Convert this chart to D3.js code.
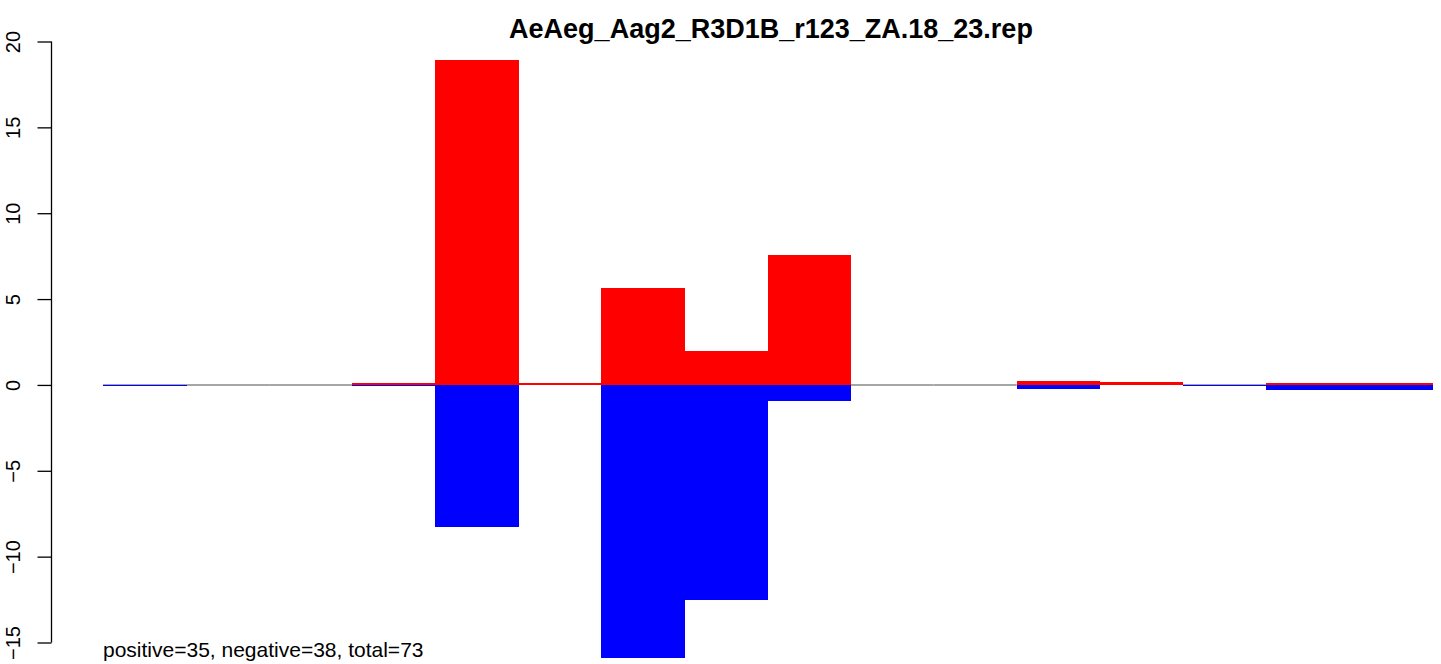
<!DOCTYPE html>
<html>
<head>
<meta charset="utf-8">
<script src="https://cdn.jsdelivr.net/npm/d3@7/dist/d3.min.js"></script>
<style>
  html, body { margin: 0; padding: 0; background: #fff; }
  svg { display: block; }
  text { font-family: "Liberation Sans", Arial, Helvetica, sans-serif; }
</style>
</head>
<body>
<svg id="chart" width="1441" height="664"></svg>
<script>
// ---- data ----
const titleText = "AeAeg_Aag2_R3D1B_r123_ZA.18_23.rep";
const noteText = "positive=35, negative=38, total=73";
const categories = ["1","2","3","4","5","6","7","8","9","10","11","12","13","14","15","16"];
const positiveValues = [0, 0, 0, 0.12, 18.93, 0.12, 5.65, 1.98, 7.57, 0, 0, 0.25, 0.17, 0, 0.12, 0.12];
const negativeValues = [-0.05, 0, 0, -0.05, -8.27, 0, -15.9, -12.55, -0.95, 0, 0, -0.21, 0, -0.04, -0.29, -0.29];
const yTicks = [-15, -10, -5, 0, 5, 10, 15, 20];
const yTickLabels = ["\u221215", "\u221210", "\u22125", "0", "5", "10", "15", "20"];

// ---- layout ----
const svg = d3.select("#chart");
const x = d3.scaleBand().domain(categories).range([103, 1432]).paddingInner(0).paddingOuter(0);
const y = d3.scaleLinear().domain([-15, 20]).range([642.5, 41.5]);

// zero line segments where there is no positive bar
svg.append("g").selectAll("line")
  .data(categories.filter((c, i) => positiveValues[i] === 0))
  .join("line")
  .attr("x1", d => x(d)).attr("x2", d => x(d) + x.bandwidth())
  .attr("y1", y(0)).attr("y2", y(0))
  .attr("stroke", "#a6a6a6").attr("stroke-width", 2);

// positive bars
svg.append("g").attr("shape-rendering", "crispEdges").selectAll("rect")
  .data(categories.map((c, i) => ({c, v: positiveValues[i]})).filter(d => d.v > 0))
  .join("rect")
  .attr("x", d => x(d.c)).attr("width", x.bandwidth() + 0.5)
  .attr("y", d => y(d.v)).attr("height", d => Math.max(1, y(0) - y(d.v)))
  .attr("fill", "#ff0000");

// negative bars
svg.append("g").attr("shape-rendering", "crispEdges").selectAll("rect")
  .data(categories.map((c, i) => ({c, v: negativeValues[i]})).filter(d => d.v < 0))
  .join("rect")
  .attr("x", d => x(d.c)).attr("width", x.bandwidth() + 0.5)
  .attr("y", y(0)).attr("height", d => Math.max(1, y(d.v) - y(0)))
  .attr("fill", "#0000ff");

// y axis
const axis = d3.axisLeft(y).tickValues(yTicks).tickSize(14).tickPadding(0)
  .tickFormat((d, i) => yTickLabels[i]);
const gy = svg.append("g").attr("transform", "translate(51.5,0)").call(axis);
gy.select(".domain").attr("d", `M0,${y(-15)}V${y(20)}`).attr("stroke", "#000").attr("stroke-width", 1.3);
gy.selectAll(".tick line").attr("stroke", "#000").attr("stroke-width", 1.3);
gy.selectAll(".tick text")
  .attr("x", null).attr("dy", null)
  .attr("text-anchor", "middle")
  .attr("transform", "translate(-31.5,0) rotate(-90)")
  .attr("font-size", 20)
  .attr("fill", "#000")
  .style("font-family", '"Liberation Sans", Arial, sans-serif');

// title
svg.append("text")
  .attr("x", 771).attr("y", 38)
  .attr("text-anchor", "middle")
  .attr("font-size", 27).attr("font-weight", "bold")
  .text(titleText);

// note
svg.append("text")
  .attr("x", 103).attr("y", 657)
  .attr("font-size", 21)
  .text(noteText);
</script>
</body>
</html>
